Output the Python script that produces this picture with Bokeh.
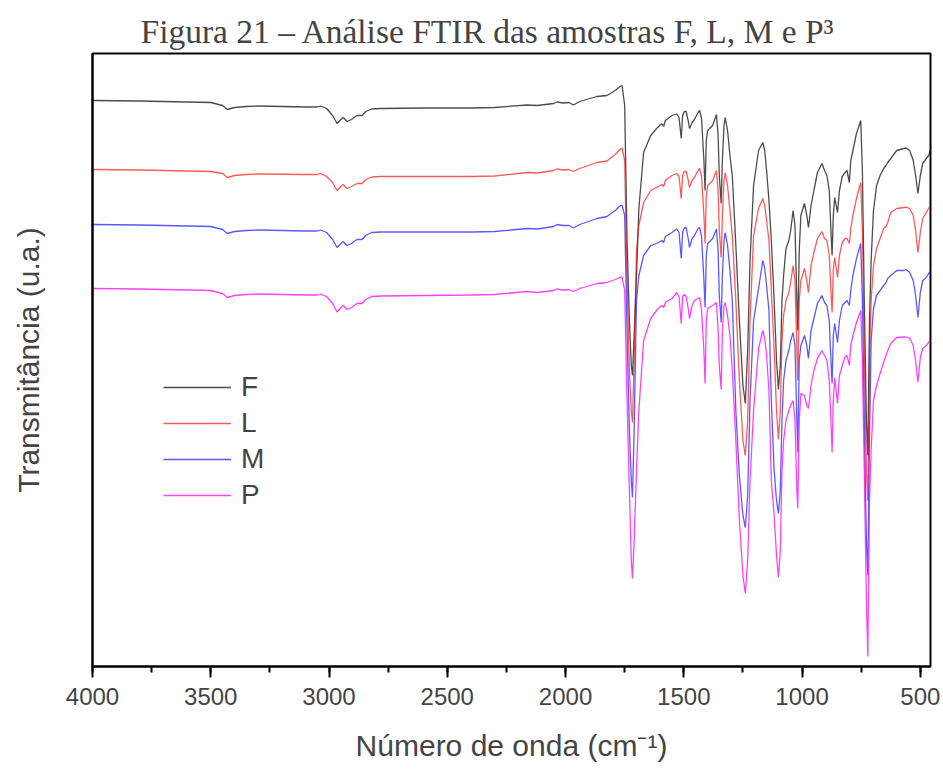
from bokeh.plotting import figure
from bokeh.models import Range1d, SingleIntervalTicker, FixedTicker, Legend, LegendItem
from bokeh.embed import file_html
from bokeh.resources import INLINE

# Wavenumber (cm-1)
WN = [4000, 3800, 3600, 3500, 3450, 3430, 3400, 3350, 3300, 3100, 3050, 3036, 3010, 2985, 2966, 2950, 2940, 2924, 2905, 2882, 2860, 2845, 2820, 2783,
      2600, 2400, 2300, 2163, 2120, 2050, 2036, 2010, 1985, 1967, 1940, 1867, 1825, 1790, 1770, 1761, 1750,
      1740, 1730, 1722, 1717, 1710, 1700, 1690, 1670, 1640, 1615, 1600, 1592, 1585, 1578, 1550, 1530, 1520, 1511, 1505, 1498, 1490, 1480, 1476, 1465, 1455, 1440, 1433,
      1425, 1415, 1410, 1405, 1399, 1378, 1362, 1355, 1350, 1342, 1337, 1330, 1325, 1315, 1305, 1295, 1280, 1265, 1250, 1240, 1230, 1220, 1205, 1184, 1166,
      1158, 1150, 1140, 1130, 1118, 1108, 1100, 1092, 1085, 1078, 1068, 1056, 1048, 1038, 1030, 1022, 1018, 1012, 1005, 990, 980, 973,
      962, 950, 935, 916, 905, 895, 885, 878, 873, 868, 862, 850, 842, 830, 818, 810, 800, 794, 785, 770, 752, 745,
      737, 728, 722, 715, 708, 698, 685, 670, 655, 645, 638, 625, 600, 570, 560, 545, 530, 520, 510, 500, 490, 475, 465, 458]

# Transmittance (arbitrary units, curves offset)
F = [566, 565.5, 564.5, 564, 561, 557, 559, 560, 560.5, 559.5, 559.5, 560.5, 558, 551, 543, 547, 549, 545, 547, 551, 551, 555, 557.5, 558,
     558.5, 558.5, 559, 561.5, 561, 563, 564.5, 563.5, 564, 561.5, 565, 570, 571, 576, 580, 581, 561,
     426, 346, 301, 291, 331, 391, 458, 514, 531, 538, 541.5, 542.7, 540, 546, 551, 552.5, 549, 528, 551, 555, 555, 544, 538, 544, 547, 554, 556,
     548, 506, 476, 526, 536, 541, 552, 531, 491, 463, 506, 541, 549, 536, 511, 491, 421, 346, 281, 263, 316, 406, 481, 516, 524,
     516, 496, 466, 426, 366, 306, 277, 301, 366, 391, 418, 426, 436, 456, 441, 366, 336, 416, 451, 463, 451, 439,
     461, 476, 494, 503, 496, 491, 476, 436, 411, 451, 469, 454, 476, 490, 494, 496, 484, 506, 516, 533, 546, 496,
     366, 246, 211, 346, 406, 456, 481, 491, 498, 501, 504, 508, 516, 518, 518.5, 516, 506, 491, 473, 491, 503, 508, 511, 516]

L = [497, 496.5, 495.5, 495, 493, 489, 491, 492, 492.5, 492, 492, 493, 490, 484, 476, 480, 482, 478, 480, 483, 483, 487, 489.5, 490,
     490, 490, 490.5, 494, 493.5, 496, 497.5, 496.5, 497, 495, 498, 504, 505.5, 512, 517, 518.5, 506,
     386, 296, 256, 244, 306, 416, 441, 464, 476, 479, 481, 482, 480, 486, 491, 493, 490, 468, 491, 495, 495, 485, 479, 486, 489, 496, 498,
     490, 451, 423, 471, 481, 486, 496, 476, 436, 409, 451, 486, 494, 481, 456, 431, 366, 286, 226, 211, 246, 346, 431, 458, 468,
     461, 446, 426, 376, 316, 256, 227, 256, 326, 351, 366, 374, 384, 401, 386, 316, 286, 366, 386, 398, 386, 374,
     401, 414, 428, 435, 428, 426, 411, 376, 354, 396, 409, 389, 411, 424, 428, 428, 423, 438, 451, 468, 484, 436,
     316, 196, 166, 306, 366, 401, 418, 428, 438, 440, 444, 454, 458, 459, 459.3, 458, 451, 436, 414, 434, 448, 454, 458, 461]

M = [442, 441.5, 440.5, 440, 437, 433, 435, 436, 436.5, 435.5, 435.5, 436.5, 434, 427, 419, 423, 425, 421, 423, 427, 427, 431, 434, 434.5,
     434.5, 434.5, 435, 438, 437.5, 440, 442, 441, 441, 438.5, 442, 448, 450, 456, 460.5, 461.5, 451,
     336, 236, 186, 169, 236, 366, 391, 411, 421, 423, 425, 426, 424, 430, 434, 437.5, 434, 408, 434, 438.5, 439, 426, 419, 428, 431, 438, 439,
     430, 386, 359, 411, 423, 428, 437.5, 416, 371, 344, 391, 426, 434, 421, 396, 366, 256, 191, 151, 139, 171, 266, 346, 378, 406,
     398, 381, 356, 266, 196, 166, 153, 176, 246, 286, 306, 316, 326, 334, 321, 246, 214, 306, 321, 331, 321, 308,
     336, 348, 363, 371, 364, 361, 346, 306, 283, 331, 343, 324, 346, 361, 364, 366, 361, 376, 391, 408, 423, 366,
     246, 126, 91, 226, 326, 358, 371, 376, 381, 384, 388, 391, 396, 396, 397, 394, 386, 371, 349, 374, 386, 389, 393, 395]

P = [378, 377.5, 376.5, 376, 373, 369, 371, 372, 372.5, 371.5, 371.5, 372.5, 370, 363, 354.5, 359, 361, 357, 359, 363, 363, 367, 370, 370.5,
     371, 371.5, 372, 375, 374, 376, 377.5, 376.5, 377, 375, 378, 383, 384, 387, 389, 389.5, 376,
     266, 176, 106, 88, 126, 196, 256, 326, 348, 356, 360, 361, 359, 364, 368, 374, 370, 343, 370, 372, 370, 356, 348, 361, 366, 368, 369,
     356, 316, 283, 346, 358, 361, 364, 336, 301, 277, 336, 361, 364, 351, 331, 296, 226, 146, 91, 73, 106, 186, 256, 318, 336,
     328, 311, 276, 186, 151, 111, 89, 116, 196, 226, 246, 256, 261, 266, 246, 176, 158, 246, 273, 271, 261, 258,
     281, 296, 308, 316, 311, 306, 286, 246, 214, 266, 289, 263, 291, 301, 310, 311, 301, 321, 331, 344, 356, 306,
     196, 66, 10, 166, 216, 266, 281, 293, 304, 311, 316, 323, 329, 329.5, 329.5, 328, 321, 306, 284.3, 309, 318, 321, 324, 326]

SERIES = ["F", "L", "M", "P"]
COLORS = ["#000000", "#ff0000", "#0000ff", "#ff00ff"]
ALPHAS = [0.7, 0.65, 0.65, 0.75]

for s in (F, L, M, P):
    assert len(s) == len(WN), (len(s), len(WN))

p = figure(width=943, height=769, output_backend="svg", toolbar_location=None,
           x_range=Range1d(4000, 457), y_range=Range1d(0, 613),
           min_border_left=92, min_border_right=13, min_border_top=53, min_border_bottom=103)

p.title.text = "Figura 21 – Análise FTIR das amostras F, L, M e P³"
p.title.text_font = "Liberation Serif"
p.title.text_font_size = "33.5px"
p.title.text_font_style = "normal"
p.title.align = "left"
p.title.vertical_align = "top"
p.title.offset = 48
p.title.standoff = 4

p.background_fill_color = "white"
p.border_fill_color = "white"
p.outline_line_color = "black"
p.outline_line_width = 2
p.outline_line_alpha = 1
p.xgrid.visible = False
p.ygrid.visible = False

items = []
for name, data, c, a in zip(SERIES, (F, L, M, P), COLORS, ALPHAS):
    r = p.line(WN, data, line_color=c, line_width=1.3, line_alpha=a)
    items.append(LegendItem(label=name, renderers=[r]))

ax = p.xaxis[0]
ax.ticker = SingleIntervalTicker(interval=500, num_minor_ticks=2)
ax.axis_label = "Número de onda (cm⁻¹)"
ax.axis_label_text_font = "Liberation Sans"
ax.axis_label_text_font_size = "30px"
ax.axis_label_text_font_style = "normal"
ax.axis_label_standoff = 21
ax.major_label_text_font = "Liberation Sans"
ax.major_label_text_font_size = "24px"
ax.major_label_standoff = 10
ax.axis_line_width = 2
ax.major_tick_line_width = 2
ax.minor_tick_line_width = 2
ax.major_tick_in = 0
ax.major_tick_out = 11
ax.minor_tick_in = 0
ax.minor_tick_out = 6

ay = p.yaxis[0]
ay.ticker = FixedTicker(ticks=[])
ay.axis_label = "Transmitância (u.a.)"
ay.axis_label_text_font = "Liberation Sans"
ay.axis_label_text_font_size = "30px"
ay.axis_label_text_font_style = "normal"
ay.axis_label_standoff = 48
ay.axis_line_width = 2

legend = Legend(items=items, location=(71, 155))
legend.background_fill_alpha = 0
legend.border_line_alpha = 0
legend.padding = 0
legend.margin = 0
legend.spacing = 4
legend.glyph_width = 68
legend.glyph_height = 30
legend.label_height = 30
legend.label_standoff = 10
legend.label_text_font = "Liberation Sans"
legend.label_text_font_size = "28px"
p.add_layout(legend, "center")

open("out.html", "w").write(file_html(p, INLINE))
